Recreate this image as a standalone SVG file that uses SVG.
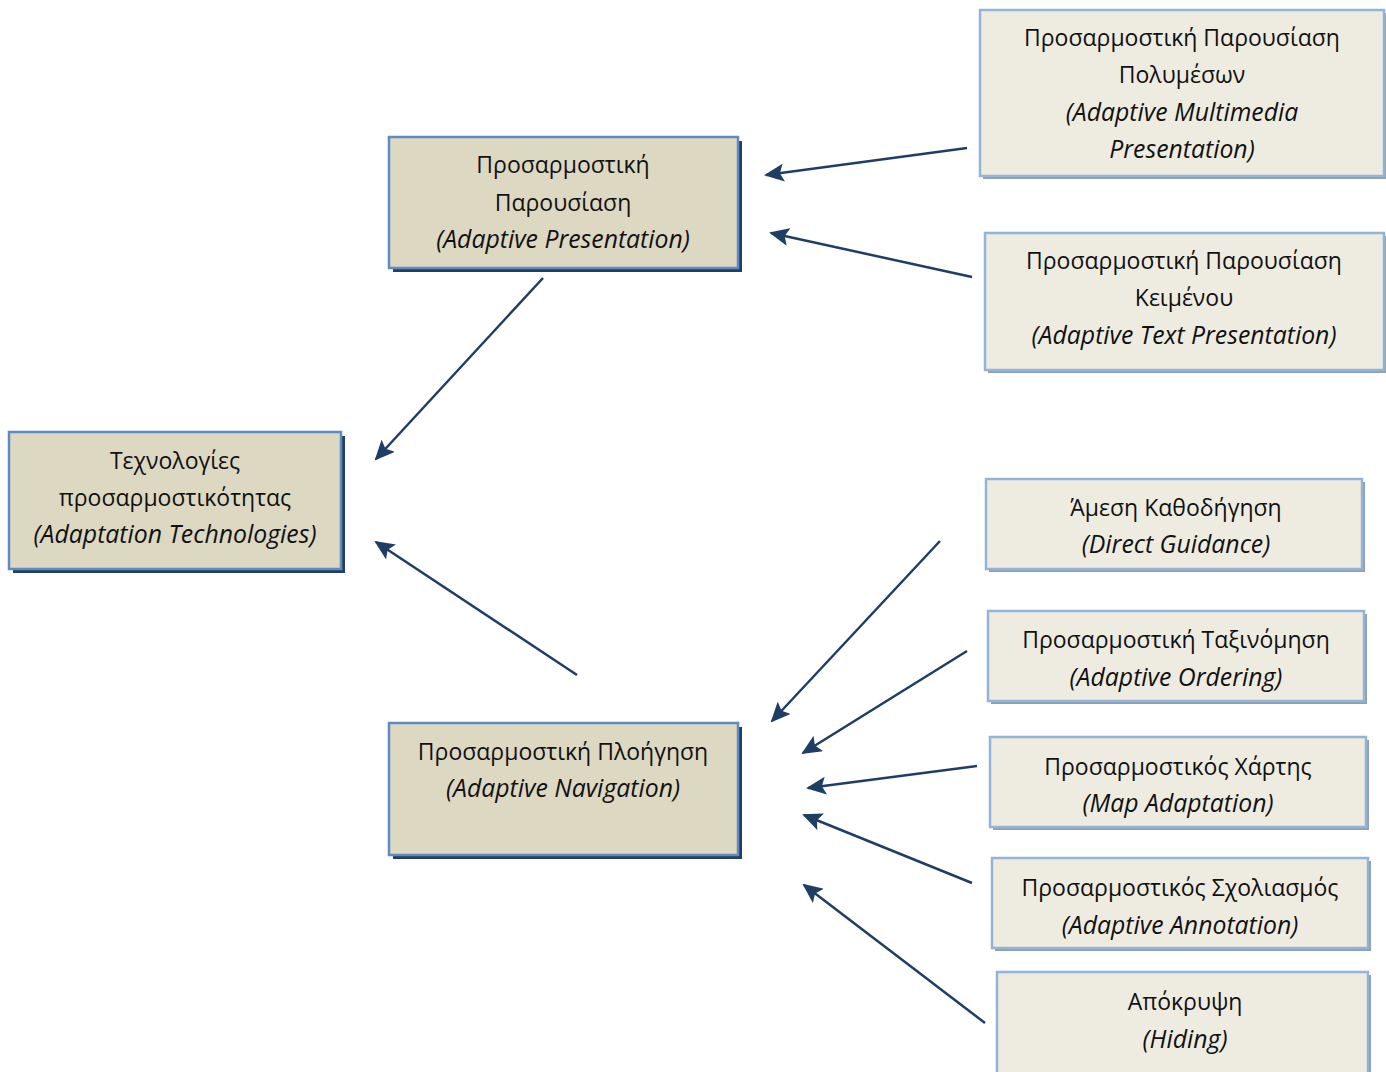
<svg xmlns="http://www.w3.org/2000/svg" width="1386" height="1072" viewBox="0 0 1386 1072">
<defs>
<style>
.t{font-family:"Open Sans","Noto Sans","DejaVu Sans",sans-serif;font-size:23px;fill:#111;text-anchor:middle}
.i{font-style:italic;font-size:24.8px}
.dk{fill:#ddd8c2;stroke:#5f8ac4;stroke-width:2.5}
.dks{fill:#243f60}
.lt{fill:#eeece1;stroke:#95b3d7;stroke-width:2.5}
.lts{fill:#8ea0b8}
.c{stroke:#1f3e64;stroke-width:2.5;fill:none;marker-end:url(#ah)}
</style>
<marker id="ah" markerUnits="userSpaceOnUse" markerWidth="20" markerHeight="18" refX="18" refY="9" orient="auto">
<path d="M0,0 L20,9 L0,18 L4,9 Z" fill="#1f3e64"/>
</marker>
</defs>
<rect width="1386" height="1072" fill="#fff"/>
<g id="connectors">
<line class="c" x1="967" y1="148" x2="766" y2="175"/>
<line class="c" x1="972" y1="277" x2="771" y2="233"/>
<line class="c" x1="543" y1="278" x2="376" y2="459"/>
<line class="c" x1="577" y1="675" x2="376" y2="542"/>
<line class="c" x1="940" y1="541" x2="772" y2="721"/>
<line class="c" x1="967" y1="651" x2="803" y2="753"/>
<line class="c" x1="977" y1="766" x2="808" y2="788"/>
<line class="c" x1="972" y1="883" x2="804" y2="815"/>
<line class="c" x1="985" y1="1023" x2="804" y2="885"/>
</g>
<g id="adaptive-presentation">
<rect class="dks" x="393" y="141" width="349" height="131"/>
<rect class="dk" x="389" y="137" width="349" height="131"/>
<text class="t" x="563" y="173">Προσαρμοστική</text>
<text class="t" x="563" y="211">Παρουσίαση</text>
<text class="t i" x="563" y="248">(Adaptive Presentation)</text>
</g>
<g id="multimedia">
<rect class="lts" x="983" y="13" width="404" height="166"/>
<rect class="lt" x="980" y="10" width="404" height="166"/>
<text class="t" x="1182" y="46">Προσαρμοστική Παρουσίαση</text>
<text class="t" x="1182" y="83">Πολυμέσων</text>
<text class="t i" x="1182" y="121">(Adaptive Multimedia</text>
<text class="t i" x="1182" y="158">Presentation)</text>
</g>
<g id="text-presentation">
<rect class="lts" x="988" y="236" width="399" height="137"/>
<rect class="lt" x="985" y="233" width="399" height="137"/>
<text class="t" x="1184" y="269">Προσαρμοστική Παρουσίαση</text>
<text class="t" x="1184" y="306">Κειμένου</text>
<text class="t i" x="1184" y="344">(Adaptive Text Presentation)</text>
</g>
<g id="adaptation-technologies">
<rect class="dks" x="13" y="436" width="332" height="137"/>
<rect class="dk" x="9" y="432" width="332" height="137"/>
<text class="t" x="175" y="469">Τεχνολογίες</text>
<text class="t" x="175" y="506">προσαρμοστικότητας</text>
<text class="t i" x="175" y="543">(Adaptation Technologies)</text>
</g>
<g id="adaptive-navigation">
<rect class="dks" x="393" y="727" width="349" height="132"/>
<rect class="dk" x="389" y="723" width="349" height="132"/>
<text class="t" x="563" y="760">Προσαρμοστική Πλοήγηση</text>
<text class="t i" x="563" y="797">(Adaptive Navigation)</text>
</g>
<g id="direct-guidance">
<rect class="lts" x="989" y="482" width="376" height="90"/>
<rect class="lt" x="986" y="479" width="376" height="90"/>
<text class="t" x="1176" y="516">Άμεση Καθοδήγηση</text>
<text class="t i" x="1176" y="553">(Direct Guidance)</text>
</g>
<g id="adaptive-ordering">
<rect class="lts" x="991" y="614" width="376" height="90"/>
<rect class="lt" x="988" y="611" width="376" height="90"/>
<text class="t" x="1176" y="648">Προσαρμοστική Ταξινόμηση</text>
<text class="t i" x="1176" y="686">(Adaptive Ordering)</text>
</g>
<g id="map-adaptation">
<rect class="lts" x="993" y="740" width="376" height="90"/>
<rect class="lt" x="990" y="737" width="376" height="90"/>
<text class="t" x="1178" y="775">Προσαρμοστικός Χάρτης</text>
<text class="t i" x="1178" y="812">(Map Adaptation)</text>
</g>
<g id="adaptive-annotation">
<rect class="lts" x="995" y="861" width="376" height="90"/>
<rect class="lt" x="992" y="858" width="376" height="90"/>
<text class="t" x="1180" y="896">Προσαρμοστικός Σχολιασμός</text>
<text class="t i" x="1180" y="934">(Adaptive Annotation)</text>
</g>
<g id="hiding">
<rect class="lts" x="1000" y="975" width="371" height="105"/>
<rect class="lt" x="997" y="972" width="371" height="105"/>
<text class="t" x="1185" y="1010">Απόκρυψη</text>
<text class="t i" x="1185" y="1048">(Hiding)</text>
</g>
</svg>
